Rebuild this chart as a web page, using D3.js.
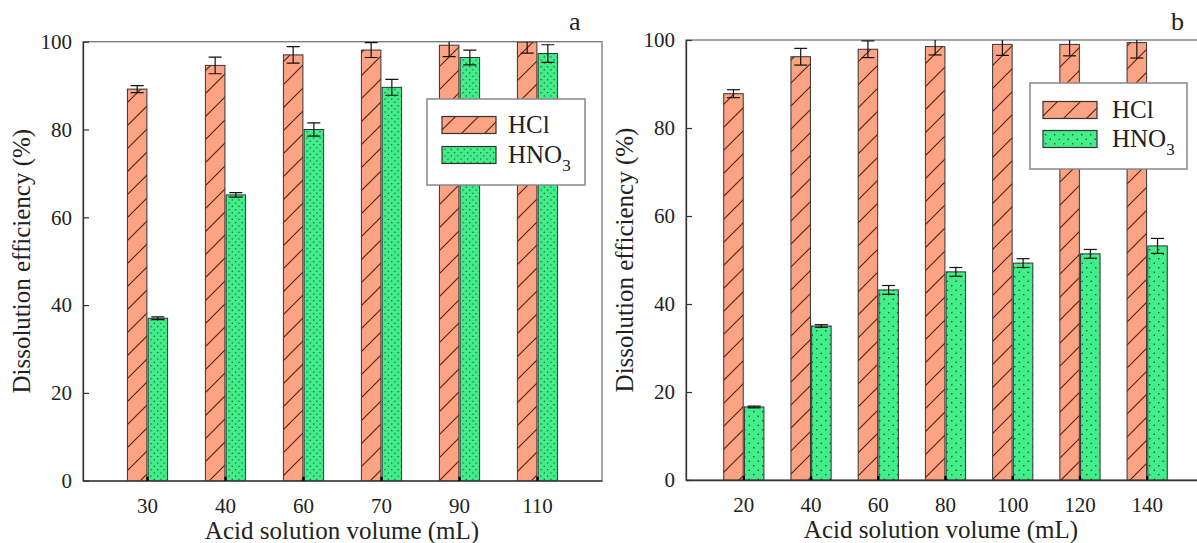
<!DOCTYPE html>
<html>
<head>
<meta charset="utf-8">
<script src="https://cdn.jsdelivr.net/npm/d3@7"></script>
<style>
  body { margin: 0; background: #fff; }
  svg { display: block; }
</style>
</head>
<body>
<svg id="chart" width="1197" height="543"></svg>
<script>
// ── Data ─────────────────────────────────────────────────────────────────────
const catsA     = ['30', '40', '60', '70', '90', '110'];
const hclA      = [89.2, 94.6, 97.0, 98.1, 99.2, 99.9];
const hclErrA   = [0.8, 1.9, 1.9, 1.7, 2.6, 2.5];
const hno3A     = [37.0, 65.1, 80.0, 89.6, 96.4, 97.3];
const hno3ErrA  = [0.3, 0.5, 1.5, 1.8, 1.7, 2.0];

const catsB     = ['20', '40', '60', '80', '100', '120', '140'];
const hclB      = [87.8, 96.2, 97.9, 98.5, 99.0, 99.0, 99.4];
const hclErrB   = [0.9, 1.9, 1.9, 1.9, 2.5, 2.6, 3.5];
const hno3B     = [16.6, 35.0, 43.2, 47.3, 49.3, 51.4, 53.2];
const hno3ErrB  = [0.2, 0.3, 1.0, 1.0, 1.0, 1.0, 1.7];

const yTicks    = [0, 20, 40, 60, 80, 100];
const series    = ['HCl', 'HNO3'];

// ── Styling ──────────────────────────────────────────────────────────────────
const FONT      = '"Liberation Serif", "Times New Roman", serif';
const HCL_FILL  = '#fba383';
const HNO3_FILL = '#42ee8a';
const BAR_W = 19.5, BAR_GAP = 1.2, CAP_W = 13;

const svg  = d3.select('#chart');
const defs = svg.append('defs');

// diagonal hatch for HCl
const hatch = defs.append('pattern').attr('id', 'hatch')
  .attr('patternUnits', 'userSpaceOnUse').attr('width', 23).attr('height', 23);
hatch.append('rect').attr('width', 23).attr('height', 23).attr('fill', HCL_FILL);
hatch.append('path').attr('d', 'M0,23 L23,0 M-6,6 L6,-6 M17,29 L29,17')
  .attr('stroke', '#5b2315').attr('stroke-width', 1.2);

// dotted fill for HNO3 (dense in a, sparser in b)
function dotPattern(id, s, r) {
  const p = defs.append('pattern').attr('id', id)
    .attr('patternUnits', 'userSpaceOnUse').attr('width', s).attr('height', s);
  p.append('rect').attr('width', s).attr('height', s).attr('fill', HNO3_FILL);
  p.append('circle').attr('cx', s / 4).attr('cy', s / 4).attr('r', r).attr('fill', '#1d4a2a');
  p.append('circle').attr('cx', 3 * s / 4).attr('cy', 3 * s / 4).attr('r', r).attr('fill', '#1d4a2a');
}
dotPattern('dotsA', 6.5, 0.75);
dotPattern('dotsB', 9, 0.8);

const txt = (sel) => sel.style('font-family', FONT).attr('fill', '#222');

// ── Panel drawing ────────────────────────────────────────────────────────────
function drawPanel(p) {
  const { id, cats, hcl, hclErr, hno3, hno3Err, left, right, top, bottom, padOuter, dots } = p;

  const x = d3.scaleBand().domain(cats).range([left, right]).paddingInner(0).paddingOuter(padOuter);
  const y = d3.scaleLinear().domain([0, 100]).range([bottom, top]);

  const g = svg.append('g');

  defs.append('clipPath').attr('id', 'clip-' + id)
    .append('rect').attr('x', left).attr('y', top).attr('width', right - left).attr('height', bottom - top);

  // frame
  g.append('rect').attr('x', left).attr('y', top)
    .attr('width', right - left).attr('height', bottom - top)
    .attr('fill', 'none').attr('stroke', '#777').attr('stroke-width', 1.3);

  const plot = g.append('g').attr('clip-path', `url(#clip-${id})`);

  const rows = cats.map((c, i) => ({ c, vals: [hcl[i], hno3[i]], errs: [hclErr[i], hno3Err[i]] }));
  const cx = c => x(c) + x.bandwidth() / 2;
  const barX = (c, k) => k === 0 ? cx(c) - BAR_GAP / 2 - BAR_W : cx(c) + BAR_GAP / 2;
  const fills = ['url(#hatch)', `url(#${dots})`];

  rows.forEach(r => {
    r.vals.forEach((v, k) => {
      plot.append('rect')
        .attr('x', barX(r.c, k)).attr('y', y(v))
        .attr('width', BAR_W).attr('height', y(0) - y(v))
        .attr('fill', fills[k]).attr('stroke', '#333').attr('stroke-width', 1);
    });
  });

  // error bars
  rows.forEach(r => {
    r.vals.forEach((v, k) => {
      const e = r.errs[k];
      const mx = barX(r.c, k) + BAR_W / 2;
      const eg = plot.append('g').attr('stroke', '#111').attr('stroke-width', 1.2);
      eg.append('line').attr('x1', mx).attr('x2', mx).attr('y1', y(v - e)).attr('y2', y(v + e));
      [v - e, v + e].forEach(t => eg.append('line')
        .attr('x1', mx - CAP_W / 2).attr('x2', mx + CAP_W / 2).attr('y1', y(t)).attr('y2', y(t)));
    });
  });

  // axes
  const yAxis = g.append('g').attr('transform', `translate(${left},0)`)
    .call(d3.axisLeft(y).tickValues(yTicks).tickSizeInner(-6).tickSizeOuter(0).tickPadding(11));
  yAxis.select('.domain').attr('stroke', '#333').attr('stroke-width', 1.3);
  yAxis.selectAll('.tick line').attr('stroke', '#333').attr('stroke-width', 1.2);
  yAxis.selectAll('.tick text').attr('font-size', 21).call(txt);

  const xAxis = g.append('g').attr('transform', `translate(0,${bottom})`)
    .call(d3.axisBottom(x).tickSizeInner(-4).tickSizeOuter(0).tickPadding(17));
  xAxis.select('.domain').attr('stroke', '#333').attr('stroke-width', 1.3);
  xAxis.selectAll('.tick line').attr('stroke', '#000').attr('stroke-width', 2.2);
  xAxis.selectAll('.tick text').attr('font-size', 21).call(txt);

  // titles
  g.append('text').attr('x', p.xTitleX).attr('y', bottom + 58)
    .attr('text-anchor', 'middle').attr('font-size', 25).call(txt)
    .text('Acid solution volume (mL)');
  g.append('text')
    .attr('transform', `translate(${p.yTitleX},${(top + bottom) / 2}) rotate(-90)`)
    .attr('text-anchor', 'middle').attr('font-size', 25).call(txt)
    .text('Dissolution efficiency (%)');
  g.append('text').attr('x', p.letterX).attr('y', 30).attr('font-size', 26).call(txt).text(id);

  // legend
  const L = p.legend;
  const lg = g.append('g').attr('transform', `translate(${L.x},${L.y})`);
  lg.append('rect').attr('width', L.w).attr('height', L.h)
    .attr('fill', '#fff').attr('stroke', '#888').attr('stroke-width', 1.5);
  series.forEach((s, k) => {
    const sy = L.rowY[k];
    lg.append('rect').attr('x', L.swX).attr('y', sy - 8.5).attr('width', 54).attr('height', 17)
      .attr('fill', fills[k]).attr('stroke', '#333').attr('stroke-width', 1.2);
    const t = lg.append('text').attr('x', L.txX).attr('y', sy + 8).attr('font-size', 25).call(txt);
    if (s === 'HNO3') {
      t.append('tspan').text('HNO');
      t.append('tspan').attr('font-size', 17).attr('dy', 8).text('3');
    } else {
      t.text(s);
    }
  });
}

drawPanel({
  id: 'a', cats: catsA, hcl: hclA, hclErr: hclErrA, hno3: hno3A, hno3Err: hno3ErrA,
  left: 83, right: 602, top: 41.7, bottom: 480.7, padOuter: 0.327, dots: 'dotsA',
  xTitleX: 342, yTitleX: 30, letterX: 569,
  legend: { x: 427, y: 99, w: 158, h: 86, swX: 15, txX: 81, rowY: [26, 56] }
});

drawPanel({
  id: 'b', cats: catsB, hcl: hclB, hclErr: hclErrB, hno3: hno3B, hno3Err: hno3ErrB,
  left: 686, right: 1205, top: 40, bottom: 480, padOuter: 0.36, dots: 'dotsB',
  xTitleX: 941, yTitleX: 633, letterX: 1171,
  legend: { x: 1030, y: 83, w: 157, h: 86, swX: 13, txX: 82, rowY: [27, 56] }
});
</script>
</body>
</html>
